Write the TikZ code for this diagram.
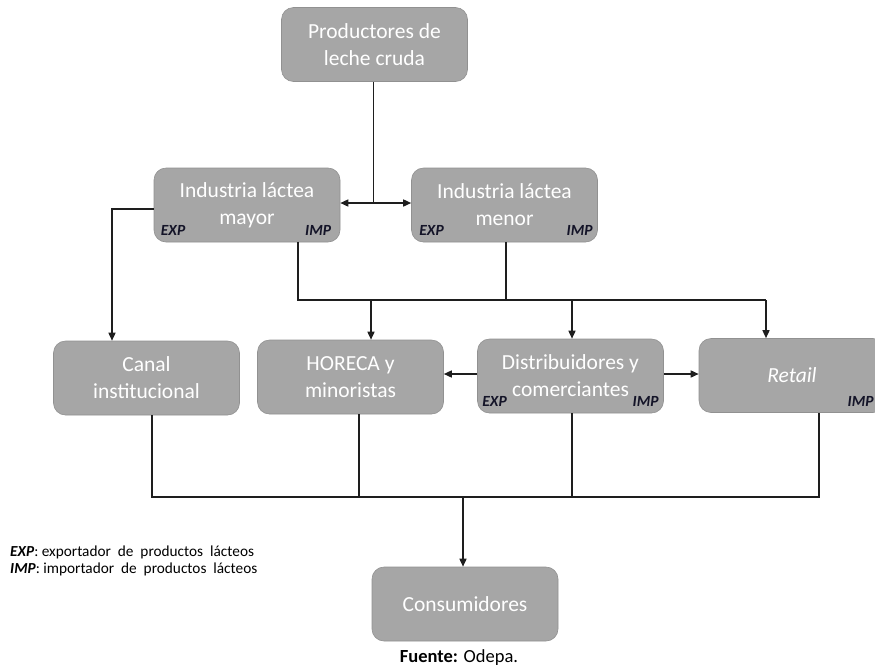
\documentclass[tikz,border=0pt]{standalone}
\usepackage{fontspec}
\setmainfont{Carlito}
\usetikzlibrary{arrows.meta}
\definecolor{boxgray}{RGB}{166,166,166}
\definecolor{boxedge}{RGB}{145,145,145}
\definecolor{linecol}{RGB}{30,30,30}
\definecolor{labcol}{RGB}{20,20,40}
\begin{document}
\begin{tikzpicture}[x=1pt,y=1pt,
  box/.style={rectangle, rounded corners=12pt, fill=boxgray, draw=boxedge, line width=0.6pt,
    minimum width=186pt, minimum height=74pt, inner sep=0pt, text=white, align=center,
    font=\fontsize{21.5}{27}\selectfont},
  lab/.style={inner sep=0pt, text=labcol, font=\fontsize{15.5}{17}\selectfont\bfseries\itshape},
  conn/.style={draw=linecol, line width=1.5pt},
  arr/.style={conn, -{Triangle[length=8pt,width=7pt]}},
  darr/.style={conn, {Triangle[length=8pt,width=7pt]}-{Triangle[length=8pt,width=7pt]}},
  legend/.style={inner sep=0pt, anchor=base west, text=black, font=\fontsize{15.3}{17}\selectfont}
]
\clip (0,0) rectangle (875,-670);
\fill[white] (0,0) rectangle (875,-670);

% boxes
\node[box] (prod) at (374.5,-44.5) {Productores de\\leche cruda};
\node[box] (may) at (247,-205) {Industria láctea\\mayor};
\node[box] (men) at (504.5,-205) {Industria láctea\\menor};
\node[box] (can) at (146.5,-378) {Canal\\institucional};
\node[box] (hor) at (350.5,-377) {HORECA y\\minoristas};
\node[box] (dis) at (570.5,-376) {Distribuidores y\\comerciantes};
\node[box] (ret) at (792,-375.5) {\textit{Retail}};
\node[box] (con) at (465,-604) {Consumidores};

% EXP / IMP labels
\node[lab, anchor=base west] (mayexp) at ([shift={(7,7)}]may.south west) {EXP};
\node[lab, anchor=base east] (mayimp) at ([shift={(-9,7)}]may.south east) {IMP};
\node[lab, anchor=base west] (menexp) at ([shift={(8,7)}]men.south west) {EXP};
\node[lab, anchor=base east] (menimp) at ([shift={(-5,7)}]men.south east) {IMP};
\node[lab, anchor=base west] (disexp) at ([shift={(5,6.5)}]dis.south west) {EXP};
\node[lab, anchor=base east] (disimp) at ([shift={(-5,6.5)}]dis.south east) {IMP};
\node[lab, anchor=base east] (retimp) at ([shift={(-11.5,6.5)}]ret.south east) {IMP};

% connectors top
\coordinate (j1) at ([xshift=-1pt,yshift=2pt]prod.south |- may.east);
\draw[conn] ([xshift=-1pt]prod.south) -- (j1);
\draw[darr] (may.east |- j1) -- (men.west |- j1);
\draw[arr] ([yshift=-4pt]may.west) -| ([xshift=-34.5pt]can.north);

% middle bus
\coordinate (b1) at ([xshift=51pt]may.south |- 0,-300);
\coordinate (b2) at ([xshift=-26pt]ret.north |- 0,-300);
\draw[conn] ([xshift=51pt]may.south) -- (b1) -- (b2);
\draw[conn] ([xshift=1.5pt]men.south) -- ([xshift=1.5pt]men.south |- b1);
\draw[arr] ([xshift=20.5pt]hor.north |- b1) -- ([xshift=20.5pt]hor.north);
\draw[arr] ([xshift=1.5pt]dis.north |- b1) -- ([xshift=1.5pt]dis.north);
\draw[arr] (b2) -- ([xshift=-26pt]ret.north);

% horizontal arrows from distribuidores
\draw[arr] ([yshift=2pt]dis.west) -- ([yshift=2pt]dis.west -| hor.east);
\draw[arr] ([yshift=2pt]dis.east) -- ([yshift=2pt]dis.east -| ret.west);

% bottom bus
\coordinate (c1) at ([xshift=5.5pt]can.south |- 0,-497);
\coordinate (c2) at ([xshift=27pt]ret.south |- 0,-497);
\draw[conn] ([xshift=5.5pt]can.south) -- (c1) -- (c2) -- ([xshift=27pt]ret.south);
\draw[conn] ([xshift=8.5pt]hor.south) -- ([xshift=8.5pt]hor.south |- c1);
\draw[conn] ([xshift=1.5pt]dis.south) -- ([xshift=1.5pt]dis.south |- c1);
\draw[arr] ([xshift=-2pt]con.north |- c1) -- ([xshift=-2pt]con.north);

% legend
\node[legend] (leg1) at (10,-556) {\textbf{\textit{EXP}}: exportador\ \ de\ \ productos\ \ lácteos};
\node[legend] (leg2) at (10,-573) {\textbf{\textit{IMP}}: importador\ \ de\ \ productos\ \ lácteos};

% source
\node[inner sep=0pt, anchor=base, font=\fontsize{18.5}{20}\selectfont] (src) at (459,-662) {\textbf{Fuente:} Odepa.};
\end{tikzpicture}
\end{document}
